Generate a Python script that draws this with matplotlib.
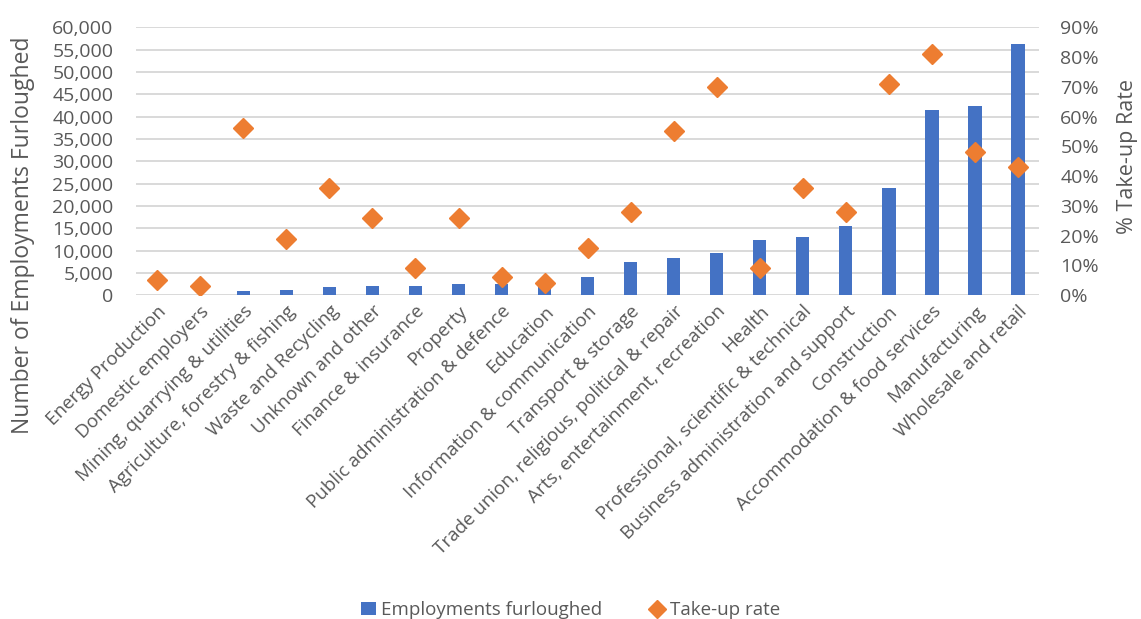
import numpy as np
import matplotlib
matplotlib.use("Agg")
import matplotlib.pyplot as plt
from matplotlib.ticker import FuncFormatter, MultipleLocator
from matplotlib.lines import Line2D
from matplotlib.patches import Patch

plt.rcParams['font.family'] = ['Open Sans', 'DejaVu Sans']

sectors = [
    "Energy Production", "Domestic employers", "Mining, quarrying & utilities",
    "Agriculture, forestry & fishing", "Waste and Recycling", "Unknown and other",
    "Finance & insurance", "Property", "Public administration & defence",
    "Education", "Information & communication", "Transport & storage",
    "Trade union, religious, political & repair", "Arts, entertainment, recreation",
    "Health", "Professional, scientific & technical",
    "Business administration and support", "Construction",
    "Accommodation & food services", "Manufacturing", "Wholesale and retail",
]
furloughed = [0, 0, 900, 1100, 1800, 2000, 2100, 2500, 2600, 2500, 4100,
              7400, 8300, 9400, 12300, 13000, 15400, 24100, 41500, 42400, 56200]
take_up = [5, 3, 56, 19, 36, 26, 9, 26, 6, 4, 16, 28, 55, 70, 9, 36, 28, 71,
           81, 48, 43]

BLUE = "#4472C4"
ORANGE = "#ED7D31"
GREY = "#595959"

fig = plt.figure(figsize=(11.41, 6.19), dpi=100)
ax = fig.add_axes([0.119, 0.523, 0.792, 0.433])
x = np.arange(len(sectors))

ax.bar(x, furloughed, width=0.31, color=BLUE, zorder=2)
ax.set_ylim(0, 60000)
ax.yaxis.set_major_locator(MultipleLocator(5000))
ax.yaxis.set_major_formatter(FuncFormatter(lambda v, p: f"{int(v):,}"))
ax.set_xlim(-0.5, len(sectors) - 0.5)
ax.grid(axis='y', color="#D9D9D9", linewidth=1.4, zorder=0)
ax.set_axisbelow(True)
for s in ax.spines.values():
    s.set_visible(False)
ax.tick_params(axis='y', length=0, colors=GREY, labelsize=14, pad=16)
ax.tick_params(axis='x', length=0, pad=5)
ax.set_xticks(x)
ax.set_xticklabels(sectors, rotation=45, ha='right', rotation_mode='anchor',
                   fontsize=13.5, color=GREY)

# left axis title sits lower than the plot centre, as in the source chart
fig.text(23 / 1141, 1 - 235 / 619, "Number of Employments Furloughed",
         rotation=90, ha='center', va='center', fontsize=16.5, color=GREY)

ax2 = ax.twinx()
ax2.plot(x, take_up, linestyle='none', marker='D', markersize=10,
         color=ORANGE, zorder=3)
ax2.set_ylim(0, 90)
ax2.yaxis.set_major_locator(MultipleLocator(10))
ax2.yaxis.set_major_formatter(FuncFormatter(lambda v, p: f"{int(v)}%"))
for s in ax2.spines.values():
    s.set_visible(False)
ax2.tick_params(length=0, colors=GREY, labelsize=14, pad=15)
fig.text(1128 / 1141, 1 - 157 / 619, "% Take-up Rate", rotation=90,
         ha='center', va='center', fontsize=15.5, color=GREY)

handles = [
    Patch(facecolor=BLUE, label="Employments furloughed"),
    Line2D([], [], linestyle='none', marker='D', markersize=9, color=ORANGE,
           label="Take-up rate"),
]
fig.legend(handles=handles, loc='lower center', ncol=2, frameon=False,
           bbox_to_anchor=(0.5, -0.028), fontsize=13.5, labelcolor=GREY,
           handlelength=0.8, handletextpad=0.3, columnspacing=2.5)

fig.savefig("out.png", dpi=100)
